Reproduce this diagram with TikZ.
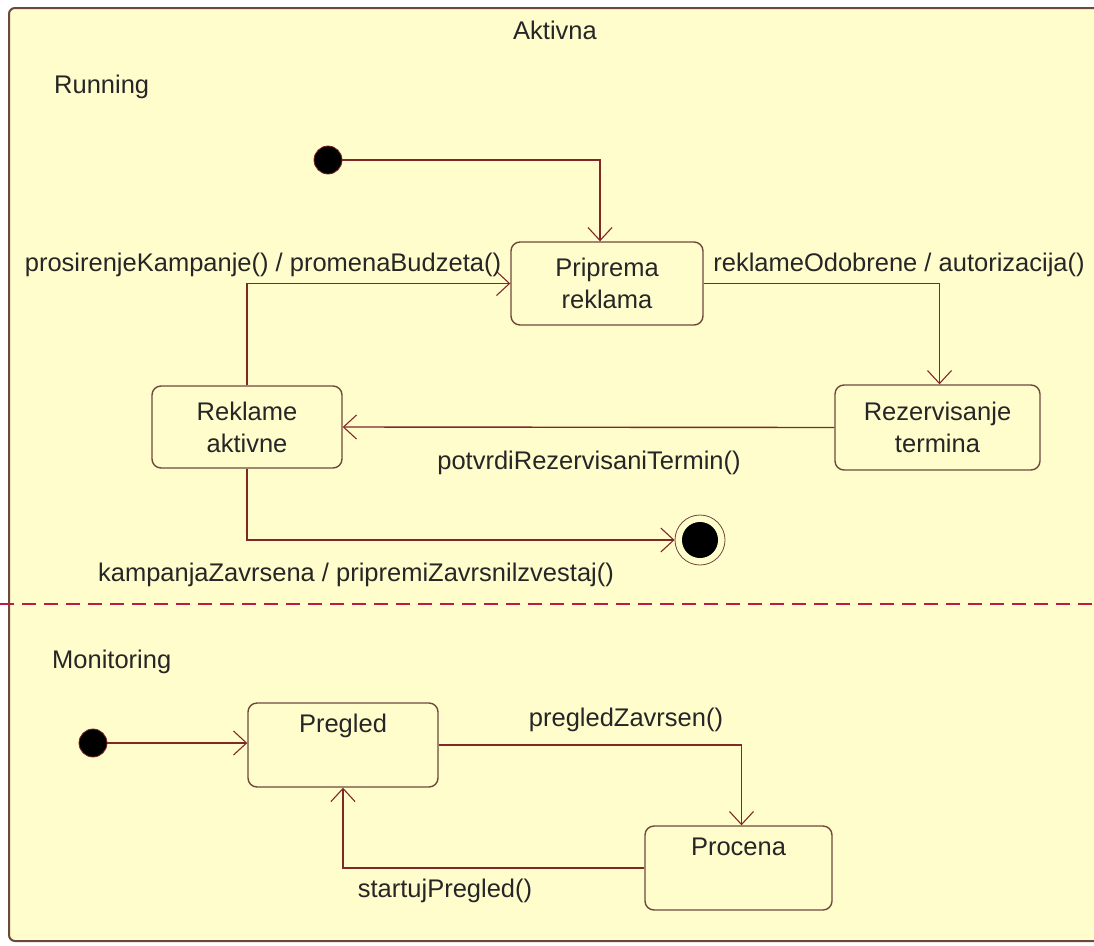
\documentclass[tikz,border=0pt]{standalone}
\usepackage{fontspec}
\setmainfont{Liberation Sans}
\usetikzlibrary{arrows.meta}
\definecolor{lineRed}{RGB}{128,40,40}
\definecolor{boxBorder}{RGB}{110,72,60}
\definecolor{paleFill}{RGB}{255,253,204}
\definecolor{dashRed}{RGB}{192,24,72}
\tikzset{
  txt/.style={font=\fontsize{25.5}{30}\selectfont, inner sep=0pt, text=black!85},
  statebox/.style={draw=boxBorder, line width=1.4pt, rounded corners=9pt, fill=paleFill,
    font=\fontsize{25.5}{32}\selectfont, align=center, text=black!85},
  initdot/.style={circle, fill=black, draw=lineRed, line width=0.8pt, inner sep=0pt, minimum size=28pt},
  trans/.style={draw=lineRed, line width=1.4pt, -{Straight Barb[length=13pt,width=24pt,line width=1.1pt]}},
}
\begin{document}
\begin{tikzpicture}[x=1pt,y=-1pt]
\useasboundingbox (0,0) rectangle (1094,945);
\clip (0,0) rectangle (1094,945);
\fill[white] (0,0) rectangle (1094,945);
% outer composite state
\draw[draw=boxBorder, line width=2pt, fill=paleFill, rounded corners=6pt] (9,8) rectangle (1110,941);
\node[txt] (aktivna) at (555,30) {Aktivna};
\node[txt, anchor=west] (running) at (54,87) {Running};
\draw[dashRed, line width=1.6pt, dash pattern=on 14pt off 8pt] (0,604) -- (1094,604);
\node[txt, anchor=west] (monitoring) at (52,662) {Monitoring};

% Running region
\node[initdot] (i1) at (328,160) {};
\node[statebox, minimum width=192pt, minimum height=83pt] (pri) at (607,283.5) {Priprema\\reklama};
\node[statebox, minimum width=205pt, minimum height=85pt] (rez) at (937.5,427.5) {Rezervisanje\\termina};
\node[statebox, minimum width=190pt, minimum height=82pt] (rek) at (247,427) {Reklame\\aktivne};
\node[circle, draw=boxBorder, line width=0.8pt, fill=paleFill, minimum size=50pt, inner sep=0pt] (fin) at (700,540) {};
\node[circle, fill=black, minimum size=36pt, inner sep=0pt] (fincore) at (700,540) {};

\draw[trans] (i1) -| ([xshift=-7pt]pri.north);
\draw[trans] (pri.east) -| ([xshift=2pt]rez.north);
\draw[trans] (rez.west) -- (rek.east);
\draw[trans] (rek.north) |- (pri.west);
\draw[trans] (rek.south) |- (fin.west);

\node[txt] (lprosir) at (263,265) {prosirenjeKampanje() / promenaBudzeta()};
\node[txt] (lodobr) at (899,265) {reklameOdobrene / autorizacija()};
\node[txt] (lpotvr) at (589,463) {potvrdiRezervisaniTermin()};
\node[txt] (lzavrs) at (356,575) {kampanjaZavrsena / pripremiZavrsnilzvestaj()};

% Monitoring region
\node[initdot] (i2) at (93,743) {};
\node[statebox, minimum width=190pt, minimum height=84pt,
  label={[txt, anchor=north, yshift=-12pt]north:Pregled}] (preg) at (343,745) {};
\node[statebox, minimum width=187pt, minimum height=84pt,
  label={[txt, anchor=north, yshift=-12pt]north:Procena}] (proc) at (738.5,868) {};

\draw[trans] (i2) -- (preg.west |- i2);
\draw[trans] (preg.east) -| ([xshift=3pt]proc.north);
\draw[trans] (proc.west) -| (preg.south);

\node[txt] (lpregz) at (626,720) {pregledZavrsen()};
\node[txt] (lstart) at (445,891) {startujPregled()};
\end{tikzpicture}
\end{document}
